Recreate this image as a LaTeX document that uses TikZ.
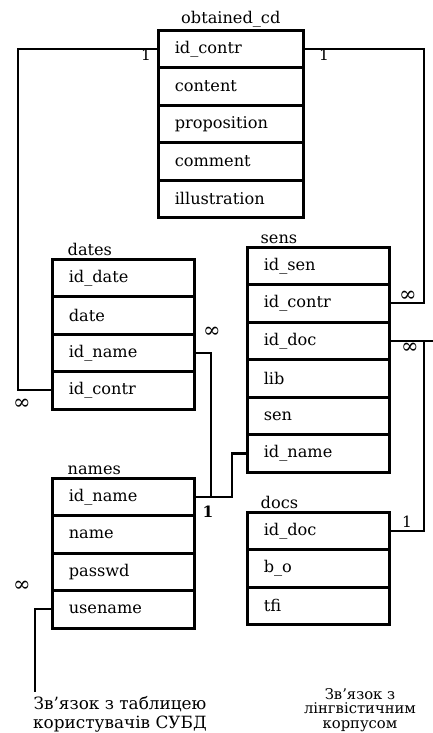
\documentclass[tikz,border=0pt]{standalone}
\usepackage{fontspec}
\setmainfont{DejaVu Serif}
\usetikzlibrary{positioning}

\begin{document}
\begin{tikzpicture}[
  every node/.style={font=\fontsize{11.5}{13}\selectfont},
  row/.style={draw, line width=1.1pt, minimum height=0.9cm, inner xsep=0.4cm, text width=#1, align=left},
  row/.default=2.73cm,
  frame/.style={line width=2pt},
  link/.style={line width=1.5pt},
  ttl/.style={inner sep=1pt},
  card/.style={inner sep=1pt, font=\fontsize{11}{12}\selectfont},
  inf/.style={card, font=\fontsize{15}{15}\selectfont},
  capt/.style={align=center, inner sep=0pt}
]
\useasboundingbox (0,0) rectangle (10.825,-18.325);

% obtained_cd
\node[row=2.8cm, anchor=north west] (cd1) at (3.95,-0.75) {id\_contr};
\node[row=2.8cm, below=0pt of cd1] (cd2) {content};
\node[row=2.8cm, below=0pt of cd2] (cd3) {proposition};
\node[row=2.8cm, below=0pt of cd3] (cd4) {comment};
\node[row=2.8cm, below=0pt of cd4] (cd5) {illustration};
\draw[frame] (cd1.north west) rectangle (cd5.south east);
\node[ttl, above=1pt of cd1] (cdt) {obtained\_cd};

% dates
\node[row, anchor=north west] (dt1) at (1.3,-6.475) {id\_date};
\node[row, below=0pt of dt1] (dt2) {date};
\node[row, below=0pt of dt2] (dt3) {id\_name};
\node[row, below=0pt of dt3] (dt4) {id\_contr};
\draw[frame] (dt1.north west) rectangle (dt4.south east);
\node[ttl, above right=1pt and 0.35cm of dt1.north west] (dtt) {dates};

% sens
\node[row, anchor=north west] (sn1) at (6.175,-6.175) {id\_sen};
\node[row, below=0pt of sn1] (sn2) {id\_contr};
\node[row, below=0pt of sn2] (sn3) {id\_doc};
\node[row, below=0pt of sn3] (sn4) {lib};
\node[row, below=0pt of sn4] (sn5) {sen};
\node[row, below=0pt of sn5] (sn6) {id\_name};
\draw[frame] (sn1.north west) rectangle (sn6.south east);
\node[ttl, above right=1pt and 0.3cm of sn1.north west] (snt) {sens};

% names
\node[row, anchor=north west] (nm1) at (1.3,-11.95) {id\_name};
\node[row, below=0pt of nm1] (nm2) {name};
\node[row, below=0pt of nm2] (nm3) {passwd};
\node[row, below=0pt of nm3] (nm4) {usename};
\draw[frame] (nm1.north west) rectangle (nm4.south east);
\node[ttl, above right=1pt and 0.35cm of nm1.north west] (nmt) {names};

% docs
\node[row, anchor=north west] (dc1) at (6.175,-12.8) {id\_doc};
\node[row, below=0pt of dc1] (dc2) {b\_o};
\node[row, below=0pt of dc2] (dc3) {tfi};
\draw[frame] (dc1.north west) rectangle (dc3.south east);
\node[ttl, above right=1pt and 0.3cm of dc1.north west] (dct) {docs};

% buses
\coordinate (lbus) at (0.45,0);
\coordinate (rbus) at (10.6,0);
\coordinate (nbus) at (5.275,0);
\coordinate (sbus) at (5.8,0);
\coordinate (edge) at (10.825,0);
\coordinate (ubot) at (0.875,-17.3);

\draw[link] (cd1.west) -- (cd1.west -| lbus) |- (dt4.west);
\draw[link] (cd1.east) -- (cd1.east -| rbus) |- (sn2.east);
\draw[link] (dt3.east) -- (dt3.east -| nbus) |- (nm1.east);
\draw[link] (nm1.east) -- (nm1.east -| sbus) |- (sn6.west);
\draw[link] (sn3.east) -- (sn3.east -| edge);
\draw[link] (sn3.east -| rbus) |- (dc1.east);
\draw[link] (nm4.west) -| (ubot);

% cardinalities
\node[card] (k1) at (3.65,-1.375) {1};
\node[card] (k2) at (8.1,-1.375) {1};
\node[inf] (k3) at (0.55,-10.1) {∞};
\node[inf] (k4) at (10.2,-7.4) {∞};
\node[inf] (k5) at (5.3,-8.3) {∞};
\node[inf] (k6) at (10.25,-8.7) {∞};
\node[card, font=\bfseries\fontsize{11}{12}\selectfont] (k7) at (5.2,-12.8) {1};
\node[card] (k8) at (10.175,-13.05) {1};
\node[inf] (k9) at (0.55,-14.65) {∞};

% captions
\node[capt, font=\fontsize{12}{13.5}\selectfont] (usr) at (3.0,-17.85) {Зв’язок з таблицею\\користувачів СУБД};
\node[capt, font=\fontsize{10.5}{10.5}\selectfont] (crp) at (9.0,-17.75) {Зв’язок з\\лінгвістичним\\корпусом};
\end{tikzpicture}
\end{document}
